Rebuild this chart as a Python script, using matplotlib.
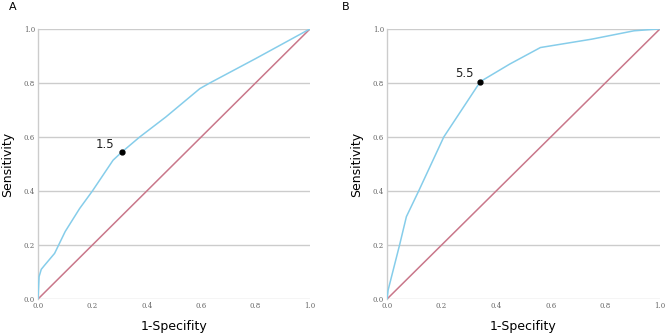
import matplotlib
matplotlib.use("Agg")
import matplotlib.pyplot as plt
import numpy as np

# ROC curve A
fpr_a = [0.0, 0.004, 0.012, 0.025, 0.061, 0.10, 0.153, 0.20, 0.276, 0.307,
         0.374, 0.47, 0.595, 0.632, 0.80, 1.0]
tpr_a = [0.0, 0.083, 0.11, 0.126, 0.169, 0.25, 0.335, 0.40, 0.514, 0.543,
         0.60, 0.674, 0.779, 0.80, 0.89, 1.0]
cut_a = (0.307, 0.543, "1.5")

# ROC curve B
fpr_b = [0.0, 0.004, 0.046, 0.071, 0.116, 0.208, 0.342, 0.45, 0.562, 0.75,
         0.905, 1.0]
tpr_b = [0.0, 0.033, 0.20, 0.305, 0.40, 0.60, 0.805, 0.87, 0.931, 0.962,
         0.993, 1.0]
cut_b = (0.342, 0.805, "5.5")

ticks = [0.0, 0.2, 0.4, 0.6, 0.8, 1.0]
tick_labels = ["0.0", "0.2", "0.4", "0.6", "0.8", "1.0"]

BLUE = "#86cdea"
RED = "#c9778a"
GRID = "#cccccc"

fig = plt.figure(figsize=(6.69, 3.36), dpi=100)
axA = fig.add_axes([0.0568, 0.110, 0.4066, 0.804])
axB = fig.add_axes([0.5785, 0.110, 0.408, 0.804])


def draw(ax, fpr, tpr, cut, letter, lx):
    ax.set_xlim(0, 1)
    ax.set_ylim(0, 1)
    for y in ticks:
        ax.axhline(y, color=GRID, lw=1.0, zorder=0)
    ax.plot([0, 1], [0, 1], color=RED, lw=1.1, zorder=2)
    ax.plot(fpr, tpr, color=BLUE, lw=1.1, zorder=3)
    ax.plot(cut[0], cut[1], "o", color="black", ms=3.5, zorder=4)
    ax.text(cut[0] - 0.025, cut[1] + 0.005, cut[2], ha="right", va="bottom",
            fontsize=8.5, color="#222222")
    for s in ["top", "right", "bottom"]:
        ax.spines[s].set_visible(False)
    ax.spines["left"].set_color(GRID)
    ax.spines["left"].set_linewidth(1.0)
    ax.set_xticks(ticks)
    ax.set_yticks(ticks)
    ax.set_xticklabels(tick_labels, family="DejaVu Serif", fontsize=5, color="#666666")
    ax.set_yticklabels(tick_labels, family="DejaVu Serif", fontsize=5, color="#666666")
    ax.tick_params(length=0, pad=2)
    ax.set_xlabel("1-Specifity", fontsize=9, labelpad=7)
    ax.set_ylabel("Sensitivity", fontsize=9, labelpad=7)
    fig.text(lx, 0.978, letter, fontsize=8, ha="left", va="center")


draw(axA, fpr_a, tpr_a, cut_a, "A", 0.013)
draw(axB, fpr_b, tpr_b, cut_b, "B", 0.511)

fig.savefig("out.png", dpi=100)
